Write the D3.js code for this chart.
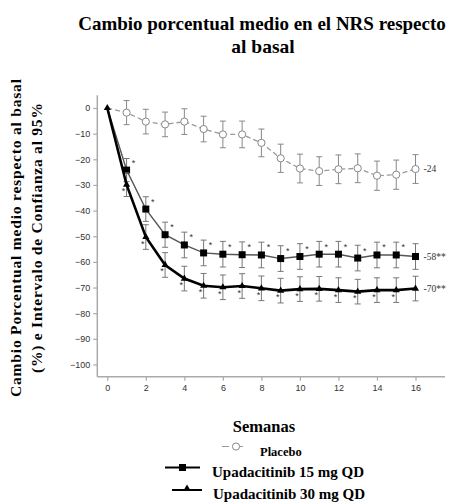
<!DOCTYPE html>
<html lang="es">
<head>
    <meta charset="UTF-8">
    <title>Cambio porcentual medio en el NRS</title>
    <script src="https://d3js.org/d3.v7.min.js"></script>
    <style>
        body { margin: 0; background: #fff; }
        svg { display: block; }
    </style>
</head>
<body>
<svg id="chart"></svg>
<script>
    // datos
    const weeks = [0, 1, 2, 3, 4, 5, 6, 7, 8, 9, 10, 11, 12, 13, 14, 15, 16];
    const placebo = [0, -1.8, -5.3, -6.4, -5.3, -8.2, -10.3, -10.3, -13.6, -19.6, -23.6, -24.6, -23.9, -23.5, -26.4, -26.0, -23.8];
    const placeboCI = [0, 4.7, 4.8, 4.8, 5.0, 5.0, 5.2, 5.2, 5.4, 5.5, 5.6, 5.6, 5.6, 5.6, 5.7, 5.7, 5.6];
    const upa15 = [0, -24.2, -39.4, -49.4, -53.4, -56.5, -57.0, -57.2, -57.3, -58.7, -57.9, -57.0, -57.0, -58.5, -57.3, -57.3, -57.9];
    const upa15CI = [0, 4.5, 4.8, 4.9, 5.0, 5.0, 5.0, 5.0, 5.0, 5.0, 5.0, 5.0, 5.0, 5.0, 5.0, 5.0, 5.0];
    const upa30 = [0, -29.9, -50.3, -61.2, -66.5, -69.3, -69.9, -69.4, -70.3, -71.2, -70.6, -70.5, -71.0, -71.6, -71.0, -71.0, -70.4];
    const upa30CI = [0, 4.6, 4.8, 4.8, 4.8, 4.8, 4.8, 4.8, 4.8, 4.8, 4.8, 4.8, 4.8, 4.8, 4.8, 4.8, 4.8];
    const endLabels = ["-24", "-58**", "-70**"];
    const xTicks = [0, 2, 4, 6, 8, 10, 12, 14, 16];
    const yTicks = [0, -10, -20, -30, -40, -50, -60, -70, -80, -90, -100];
    const legendNames = ["Placebo", "Upadacitinib 15 mg QD", "Upadacitinib 30 mg QD"];

    const width = 449, height = 502;
    const serif = "'Liberation Serif', 'Times New Roman', serif";
    const sans = "'Liberation Sans', Arial, sans-serif";

    const svg = d3.select("#chart").attr("width", width).attr("height", height);

    const x = d3.scaleLinear().domain([0, 16]).range([107.3, 415.5]);
    const y = d3.scaleLinear().domain([0, -100]).range([108, 364.5]);

    // titulo
    svg.append("text")
        .attr("x", 262).attr("y", 30)
        .attr("text-anchor", "middle")
        .style("font-family", serif).style("font-weight", "bold").style("font-size", "19px")
        .text("Cambio porcentual medio en el NRS respecto");
    svg.append("text")
        .attr("x", 263).attr("y", 53)
        .attr("text-anchor", "middle")
        .style("font-family", serif).style("font-weight", "bold").style("font-size", "19.5px")
        .text("al basal");

    // titulo eje y
    const yTitle = svg.append("text")
        .attr("transform", "translate(0,238) rotate(-90)")
        .attr("text-anchor", "middle")
        .style("font-family", serif).style("font-weight", "bold").style("font-size", "15.6px");
    yTitle.append("tspan").attr("x", 0).attr("y", 21)
        .attr("textLength", 318).attr("lengthAdjust", "spacing")
        .text("Cambio Porcentual medio respecto al basal");
    yTitle.append("tspan").attr("x", 0).attr("y", 42)
        .attr("textLength", 270).attr("lengthAdjust", "spacing")
        .text("(%) e Intervalo de Confianza al 95%");

    // ejes
    const axisColor = "#aaa";
    const yAxis = svg.append("g")
        .attr("transform", "translate(97.3,0)")
        .call(d3.axisLeft(y).tickValues(yTicks).tickSize(4).tickPadding(3).tickSizeOuter(0));
    yAxis.select(".domain").remove();
    svg.append("line")
        .attr("x1", 97.3).attr("x2", 97.3)
        .attr("y1", y(5)).attr("y2", 376.7)
        .attr("stroke", axisColor).attr("stroke-width", 1.5);

    const xAxis = svg.append("g")
        .attr("transform", "translate(0,376.7)")
        .call(d3.axisBottom(x).tickValues(xTicks).tickSize(4).tickPadding(4).tickSizeOuter(0));
    xAxis.select(".domain").remove();
    svg.append("line")
        .attr("x1", 97.3).attr("x2", 445)
        .attr("y1", 376.7).attr("y2", 376.7)
        .attr("stroke", axisColor).attr("stroke-width", 1.5);

    svg.selectAll(".tick line").attr("stroke", axisColor).attr("stroke-width", 1.2);
    svg.selectAll(".tick text")
        .style("font-family", sans).style("font-size", "9px").attr("fill", "#333");

    // titulo eje x
    svg.append("text")
        .attr("x", 264).attr("y", 432)
        .attr("text-anchor", "middle")
        .style("font-family", serif).style("font-weight", "bold").style("font-size", "16.5px")
        .text("Semanas");

    const line = d3.line().x(d => x(d[0])).y(d => y(d[1]));

    function errorBars(vals, ci, color) {
        const g = svg.append("g");
        weeks.forEach((w, i) => {
            if (ci[i] === 0) return;
            const cx = x(w), y1 = y(vals[i] + ci[i]), y2 = y(vals[i] - ci[i]);
            g.append("line").attr("x1", cx).attr("x2", cx).attr("y1", y1).attr("y2", y2)
                .attr("stroke", color).attr("stroke-width", 1);
            [y1, y2].forEach(yy => g.append("line")
                .attr("x1", cx - 3).attr("x2", cx + 3).attr("y1", yy).attr("y2", yy)
                .attr("stroke", color).attr("stroke-width", 1));
        });
    }

    function stars(vals, dx, dy, last) {
        weeks.forEach((w, i) => {
            if (i === 0 || i > last) return;
            svg.append("text")
                .attr("x", x(w) + dx).attr("y", y(vals[i]) + dy)
                .attr("text-anchor", "middle")
                .style("font-family", sans).style("font-size", "9px").attr("fill", "#333")
                .text("*");
        });
    }

    // placebo
    errorBars(placebo, placeboCI, "#888");
    svg.append("path")
        .datum(weeks.map((w, i) => [w, placebo[i]]))
        .attr("d", line).attr("fill", "none")
        .attr("stroke", "#999").attr("stroke-width", 1.3).attr("stroke-dasharray", "5,3");
    svg.selectAll(".pl").data(weeks.slice(1)).join("circle")
        .attr("cx", d => x(d)).attr("cy", (d, i) => y(placebo[i + 1]))
        .attr("r", 3.6).attr("fill", "#fff").attr("stroke", "#888").attr("stroke-width", 1);

    // upadacitinib 15 mg
    errorBars(upa15, upa15CI, "#777");
    svg.append("path")
        .datum(weeks.map((w, i) => [w, upa15[i]]))
        .attr("d", line).attr("fill", "none")
        .attr("stroke", "#555").attr("stroke-width", 1.4);
    svg.selectAll(".sq").data(weeks.slice(1)).join("rect")
        .attr("x", d => x(d) - 3.5).attr("y", (d, i) => y(upa15[i + 1]) - 3.5)
        .attr("width", 7).attr("height", 7).attr("fill", "#000");
    stars(upa15, 7, -4.5, 15);

    // upadacitinib 30 mg
    errorBars(upa30, upa30CI, "#777");
    svg.append("path")
        .datum(weeks.map((w, i) => [w, upa30[i]]))
        .attr("d", line).attr("fill", "none")
        .attr("stroke", "#000").attr("stroke-width", 2.6);
    const tri = d3.symbol().type(d3.symbolTriangle).size(22);
    svg.selectAll(".tr").data(weeks).join("path")
        .attr("transform", (d, i) => `translate(${x(d)},${y(upa30[i])})`)
        .attr("d", tri).attr("fill", "#000");
    stars(upa30, -3, 9.5, 15);

    // etiquetas finales
    [placebo, upa15, upa30].forEach((vals, k) => {
        svg.append("text")
            .attr("x", x(16) + 8).attr("y", y(vals[16]) + 3)
            .style("font-family", serif).style("font-size", "9.5px").attr("fill", "#333")
            .text(endLabels[k]);
    });

    // leyenda
    const lg = svg.append("g");
    // placebo
    lg.append("line").attr("x1", 222).attr("x2", 250).attr("y1", 446.5).attr("y2", 446.5)
        .attr("stroke", "#999").attr("stroke-width", 1.2).attr("stroke-dasharray", "7,7");
    lg.append("circle").attr("cx", 236).attr("cy", 446.5).attr("r", 3.6)
        .attr("fill", "#fff").attr("stroke", "#888");
    lg.append("text").attr("x", 260).attr("y", 456)
        .style("font-family", serif).style("font-weight", "bold").style("font-size", "12.5px")
        .text(legendNames[0]);
    // 15 mg
    lg.append("line").attr("x1", 165).attr("x2", 200).attr("y1", 467.5).attr("y2", 467.5)
        .attr("stroke", "#000").attr("stroke-width", 2);
    lg.append("rect").attr("x", 179).attr("y", 464).attr("width", 7).attr("height", 7).attr("fill", "#000");
    lg.append("text").attr("x", 212).attr("y", 477)
        .style("font-family", serif).style("font-weight", "bold").style("font-size", "15px")
        .text(legendNames[1]);
    // 30 mg
    lg.append("line").attr("x1", 172).attr("x2", 202).attr("y1", 490).attr("y2", 490)
        .attr("stroke", "#000").attr("stroke-width", 2);
    lg.append("path").attr("transform", "translate(187,488.5)").attr("d", tri).attr("fill", "#000");
    lg.append("text").attr("x", 213).attr("y", 499)
        .style("font-family", serif).style("font-weight", "bold").style("font-size", "15px")
        .text(legendNames[2]);
</script>
</body>
</html>
